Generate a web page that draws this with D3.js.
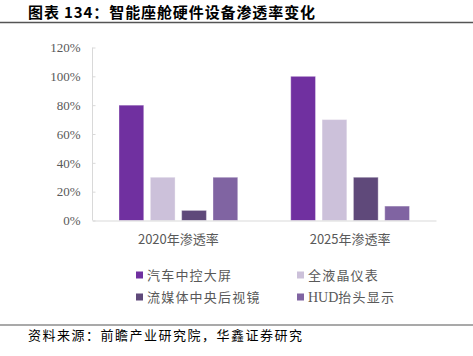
<!DOCTYPE html>
<html><head><meta charset="utf-8">
<script src="https://cdn.jsdelivr.net/npm/d3@7"></script>
<style>
html,body{margin:0;padding:0;background:#fff;}
svg{display:block;}
</style></head>
<body>
<svg id="c" width="473" height="356"></svg>
<script>
const title = "图表 134：智能座舱硬件设备渗透率变化";
const source = "资料来源：前瞻产业研究院，华鑫证券研究";
const categories = ["2020年渗透率", "2025年渗透率"];
const seriesNames = ["汽车中控大屏", "全液晶仪表", "流媒体中央后视镜", "HUD抬头显示"];
const seriesColors = ["#7030A0", "#CCC1DA", "#5F497A", "#8064A2"];
const vCentral = [80, 100];
const vCluster = [30, 70];
const vMirror = [7, 30];
const vHud = [30, 10];
const yTicks = [0, 20, 40, 60, 80, 100, 120];

const seriesValues = [vCentral, vCluster, vMirror, vHud];

const svg = d3.select("#c");
const cjk = "'Noto Sans CJK SC', sans-serif";
const serif = "'Liberation Serif', 'DejaVu Serif', serif";

// Title
svg.append("text").attr("x", 28).attr("y", 18)
  .attr("font-family", cjk).attr("font-weight", "bold").attr("font-size", 15)
  .attr("letter-spacing", 0.9)
  .attr("fill", "#000").text(title);
svg.append("line").attr("x1", 0).attr("x2", 473).attr("y1", 22.5).attr("y2", 22.5)
  .attr("stroke", "#555").attr("stroke-width", 1.5);

// Scales
const x0 = d3.scaleBand().domain(categories).range([92.5, 436]).paddingInner(0).paddingOuter(0);
const x1 = d3.scaleBand().domain(seriesNames).range([26.5, x0.bandwidth() - 26.5]).paddingInner(0.21).paddingOuter(0);
const y = d3.scaleLinear().domain([0, 120]).range([220.5, 47.5]);

// Y axis
const yAxis = d3.axisLeft(y).tickValues(yTicks).tickFormat(d => d + "%").tickSize(-3).tickPadding(12);
const gy = svg.append("g").attr("transform", "translate(92.5,0)").call(yAxis);
gy.select(".domain").attr("stroke", "#d9d9d9").attr("d", "M0," + y(120) + "V" + y(0));
gy.selectAll(".tick line").attr("stroke", "#d9d9d9");
gy.selectAll(".tick text").attr("font-family", serif).attr("font-size", 13).attr("fill", "#595959");

// Bars
const groups = svg.append("g").selectAll("g").data(categories).join("g")
  .attr("transform", d => "translate(" + x0(d) + ",0)");
groups.selectAll("rect")
  .data((c, i) => seriesNames.map((s, j) => ({s, j, v: seriesValues[j][i]})))
  .join("rect")
  .attr("x", d => x1(d.s))
  .attr("width", x1.bandwidth())
  .attr("y", d => y(d.v))
  .attr("height", d => y(0) - y(d.v))
  .attr("fill", d => seriesColors[d.j])
  .attr("stroke", "#fff").attr("stroke-opacity", 0.35).attr("stroke-width", 1);

// X axis
const xAxis = d3.axisBottom(x0).tickSize(0).tickPadding(14);
const gx = svg.append("g").attr("transform", "translate(0," + y(0) + ")").call(xAxis);
gx.select(".domain").attr("stroke", "#d9d9d9");
gx.selectAll(".tick text").attr("font-family", cjk).attr("font-size", 13).attr("fill", "#595959");

// Legend
const legPos = [[136, 275], [297, 275], [136, 297], [297, 297]];
const leg = svg.append("g").selectAll("g").data(seriesNames).join("g")
  .attr("transform", (d, i) => "translate(" + legPos[i][0] + "," + legPos[i][1] + ")");
leg.append("rect").attr("x", 0).attr("y", -3.5).attr("width", 7).attr("height", 7)
  .attr("fill", (d, i) => seriesColors[i]);
const lt = leg.append("text").attr("x", 11).attr("y", 0).attr("dy", "0.36em")
  .attr("font-family", cjk).attr("font-size", 13).attr("letter-spacing", 1.2).attr("fill", "#595959");
lt.each(function(d) {
  const t = d3.select(this);
  const m = d.match(/^([A-Za-z]+)(.*)$/);
  if (m) {
    t.append("tspan").attr("font-family", serif).attr("font-size", 14).attr("letter-spacing", 0).text(m[1]);
    t.append("tspan").text(m[2]);
  } else {
    t.text(d);
  }
});

// Bottom rule and source
svg.append("line").attr("x1", 0).attr("x2", 473).attr("y1", 325).attr("y2", 325)
  .attr("stroke", "#555").attr("stroke-width", 1.2);
svg.append("text").attr("x", 28).attr("y", 340)
  .attr("font-family", cjk).attr("font-size", 13).attr("letter-spacing", 1.5).attr("fill", "#000")
  .text(source);
</script>
</body></html>
